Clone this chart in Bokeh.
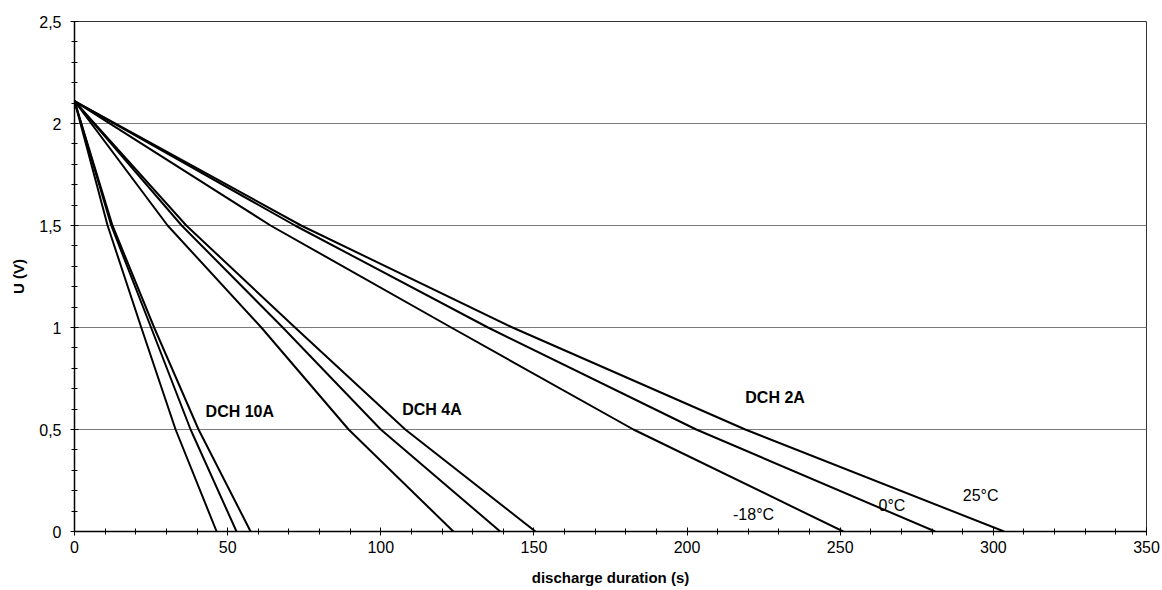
from bokeh.plotting import figure
from bokeh.models import Range1d, FixedTicker, Label
from bokeh.embed import file_html
from bokeh.resources import INLINE

# Voltage levels at which curve crossings were read
u_levels = [2.11, 1.5, 1.0, 0.5, 0.0]

# discharge duration (s) at each voltage level
t_10a_m18 = [0, 10.8, 21.8, 33.0, 46.4]
t_10a_0 = [0, 12.0, 25.0, 37.9, 52.9]
t_10a_25 = [0, 12.4, 26.0, 40.5, 57.5]

t_4a_m18 = [0, 30.4, 61.0, 89.5, 123.7]
t_4a_0 = [0, 35.0, 68.0, 100.0, 139.0]
t_4a_25 = [0, 36.5, 72.0, 108.0, 150.5]

t_2a_m18 = [0, 64.0, 123.0, 182.5, 251.0]
t_2a_0 = [0, 72.0, 135.0, 203.0, 281.0]
t_2a_25 = [0, 74.0, 143.0, 219.0, 303.5]

x_ticks = [0, 50, 100, 150, 200, 250, 300, 350]
y_ticks = [0, 0.5, 1, 1.5, 2, 2.5]
y_tick_labels = {0: "0", 0.5: "0,5", 1: "1", 1.5: "1,5", 2: "2", 2.5: "2,5"}

FONT = "Liberation Sans"

p = figure(width=1162, height=590, output_backend="svg", toolbar_location=None,
           x_range=Range1d(0, 350), y_range=Range1d(0, 2.5))
p.min_border_left = 74
p.min_border_right = 16
p.min_border_top = 21
p.min_border_bottom = 59
p.background_fill_color = "white"
p.border_fill_color = "white"
p.outline_line_color = "#333333"
p.outline_line_width = 1

for curve in [t_10a_m18, t_10a_0, t_10a_25, t_4a_m18, t_4a_0, t_4a_25,
              t_2a_m18, t_2a_0, t_2a_25]:
    p.line(curve, u_levels, line_color="black", line_width=2,
           line_join="round")

# axes
p.xaxis.ticker = FixedTicker(ticks=x_ticks, minor_ticks=list(range(0, 351, 10)))
p.yaxis.ticker = FixedTicker(ticks=y_ticks, minor_ticks=[i / 10 for i in range(26)])
p.yaxis.major_label_overrides = y_tick_labels
for ax in (p.xaxis, p.yaxis):
    ax.axis_line_color = "black"
    ax.axis_line_width = 1.5
    ax.major_tick_in = 4
    ax.major_tick_out = 4
    ax.minor_tick_in = 3
    ax.minor_tick_out = 3
    ax.major_tick_line_color = "black"
    ax.minor_tick_line_color = "black"
    ax.major_label_text_font = FONT
    ax.major_label_text_font_size = "16px"
    ax.major_label_text_color = "black"
    ax.axis_label_text_font = FONT
    ax.axis_label_text_font_style = "bold"
    ax.axis_label_text_font_size = "15px"
    ax.axis_label_text_color = "black"

p.xaxis.axis_label = "discharge duration (s)"
p.yaxis.axis_label = "U (V)"
p.xaxis.major_label_standoff = 5
p.xaxis.axis_label_standoff = 13
p.yaxis.major_label_standoff = 9
p.yaxis.axis_label_standoff = 9

p.xgrid.grid_line_color = None
p.ygrid.ticker = FixedTicker(ticks=y_ticks)
p.ygrid.grid_line_color = "#7a7a7a"
p.ygrid.grid_line_width = 1

def lab(x, y, txt, bold=False):
    p.add_layout(Label(x=x, y=y, text=txt, text_font=FONT,
                       text_font_size="16px", text_color="black",
                       text_font_style="bold" if bold else "normal",
                       text_baseline="middle", text_align="left"))

lab(42.8, 0.59, "DCH 10A", True)
lab(107.0, 0.60, "DCH 4A", True)
lab(219.0, 0.655, "DCH 2A", True)
lab(215.0, 0.083, "-18°C")
lab(262.5, 0.127, "0°C")
lab(290.0, 0.176, "25°C")

open("out.html", "w").write(file_html(p, INLINE))
